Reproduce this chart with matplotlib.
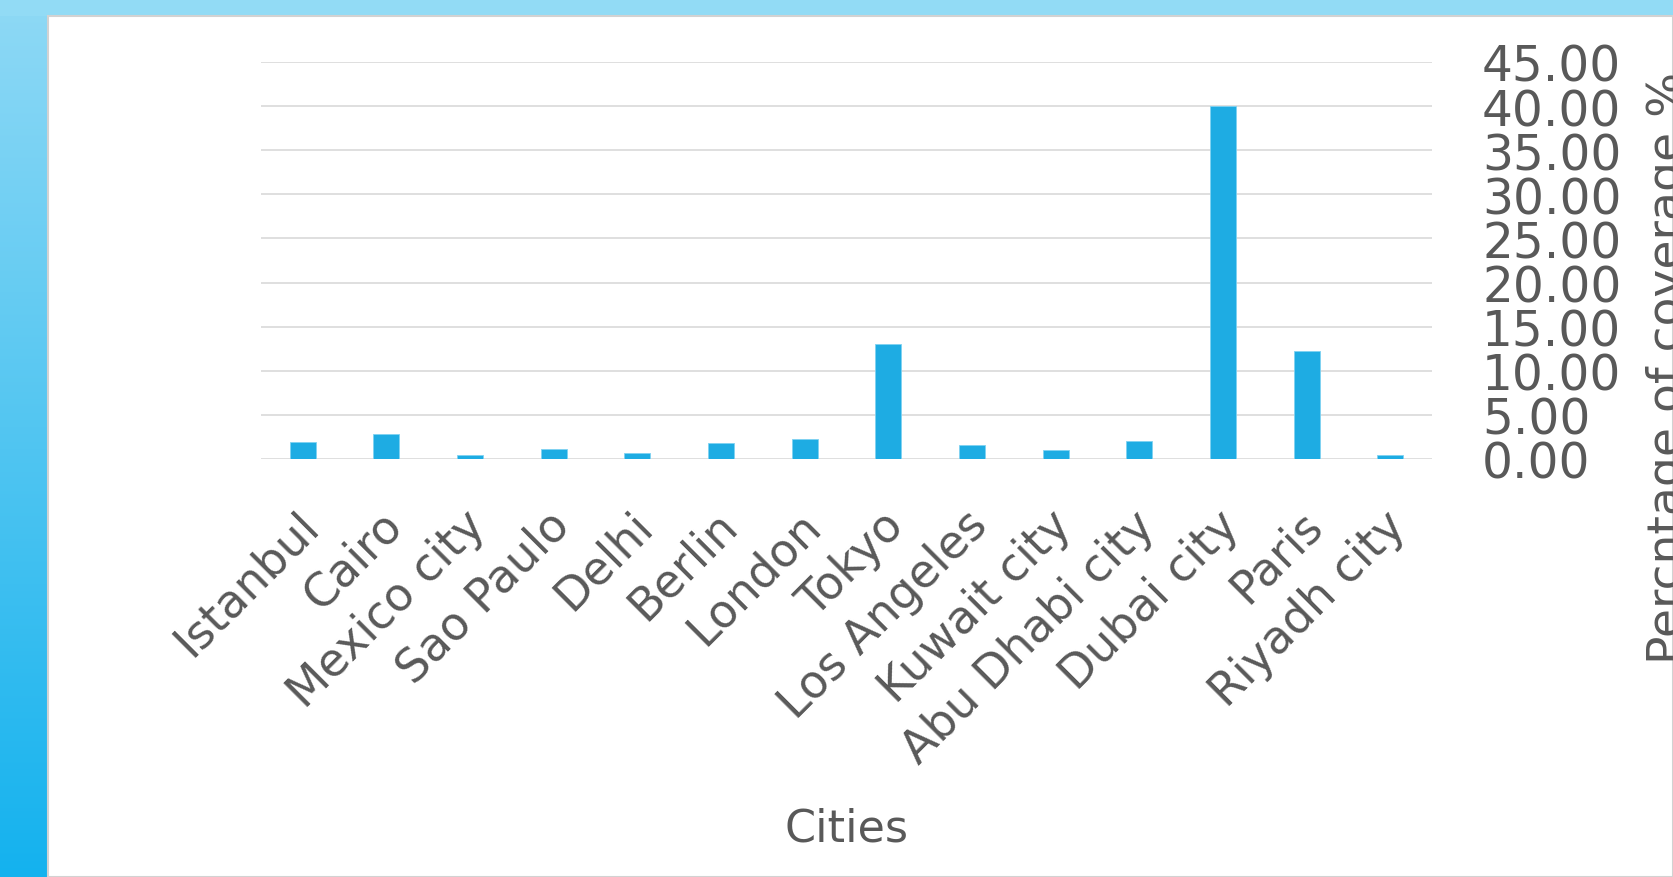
import numpy as np
import matplotlib
matplotlib.use('Agg')
import matplotlib.pyplot as plt
from matplotlib.patches import Rectangle
from matplotlib.transforms import ScaledTranslation

# coverage per city (%)
cities = ['Istanbul', 'Cairo', 'Mexico city', 'Sao Paulo', 'Delhi', 'Berlin', 'London',
          'Tokyo', 'Los Angeles', 'Kuwait city', 'Abu Dhabi city', 'Dubai city', 'Paris',
          'Riyadh city']
coverage = [1.89, 2.80, 0.42, 1.10, 0.68, 1.78, 2.23,
            13.03, 1.59, 0.98, 2.00, 40.0, 12.28, 0.45]
yticks = [0, 5, 10, 15, 20, 25, 30, 35, 40, 45]

text_grey = '#595959'
bar_blue = '#1EACE3'
grid_grey = '#D9D9D9'

plt.rcParams['font.family'] = ['DejaVu Sans']

W, H = 1673, 878
fig = plt.figure(figsize=(W / 100, H / 100), dpi=100)
fig.patch.set_facecolor('white')

# slide frame: light top band and a blue gradient strip on the left
bg = fig.add_axes([0, 0, 1, 1], zorder=-10)
bg.set_xlim(0, W)
bg.set_ylim(H, 0)
bg.axis('off')
top_rgb = np.array([143, 217, 245]) / 255
bot_rgb = np.array([20, 178, 238]) / 255
t = np.linspace(0, 1, 256)[:, None, None]
grad = top_rgb * (1 - t) + bot_rgb * t
bg.imshow(grad, extent=[0, 48, H, 0], aspect='auto', interpolation='bilinear')
bg.add_patch(Rectangle((0, 0), W, 17, color='#92DBF5', lw=0))
bg.add_patch(Rectangle((48, 17), W - 48, H - 17, facecolor='white',
                       edgecolor='#D2D2D2', lw=1.5))

ax = fig.add_axes([261 / W, (H - 460) / H, 1171 / W, 397 / H])
ax.patch.set_alpha(0)

x = np.arange(len(cities))
ax.bar(x, coverage, width=0.31, color=bar_blue, edgecolor='#7FD2F2', linewidth=0.6, zorder=3)

ax.set_xlim(-0.5, len(cities) - 0.5)
ax.set_ylim(0, 45)
ax.set_yticks(yticks)
ax.set_yticklabels([f'{v:.2f}' for v in yticks])
ax.yaxis.tick_right()
ax.grid(axis='y', color=grid_grey, linewidth=1.2, zorder=0)
for s in ax.spines.values():
    s.set_visible(False)

ax.set_xticks(x)
ax.set_xticklabels(cities, rotation=45, ha='right', rotation_mode='anchor')
ax.tick_params(axis='x', length=0, pad=31, labelsize=33, labelcolor=text_grey)
ax.tick_params(axis='y', length=0, pad=36, labelsize=35, labelcolor=text_grey)

# nudge the slanted city names a little to the left
shift = ScaledTranslation(-7 / 100, 0, fig.dpi_scale_trans)
for lab in ax.get_xticklabels():
    lab.set_transform(lab.get_transform() + shift)

ax.set_xlabel('Cities', fontsize=32, color=text_grey)
ax.xaxis.set_label_coords(0.5, -0.875)

ax.text(1.183, 0.232, 'Percntage of coverage %', transform=ax.transAxes,
        rotation=90, rotation_mode='anchor', ha='center', va='top',
        fontsize=34, color=text_grey, clip_on=False)

fig.savefig('out.png', dpi=100)
